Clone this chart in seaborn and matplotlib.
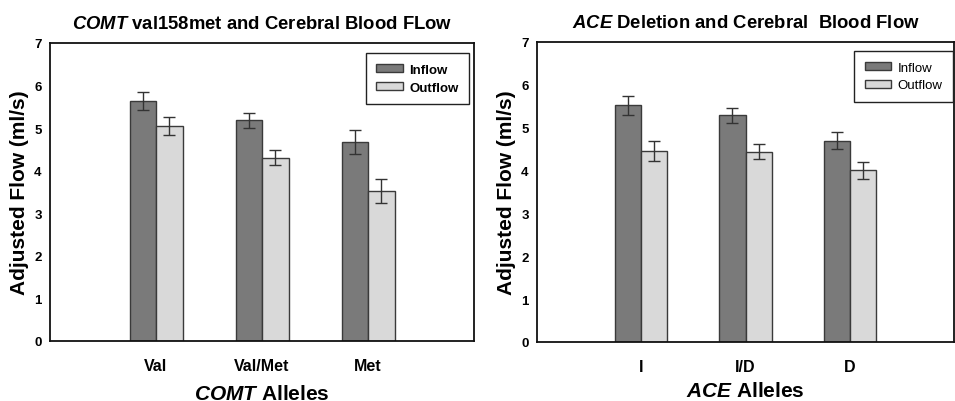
import matplotlib
matplotlib.use("Agg")
import matplotlib.pyplot as plt
import seaborn as sns
import pandas as pd

# ---- data ----
comt_alleles = ["Val", "Val/Met", "Met"]
comt_inflow = [5.63, 5.18, 4.67]
comt_inflow_err = [0.21, 0.17, 0.28]
comt_outflow = [5.05, 4.31, 3.53]
comt_outflow_err = [0.22, 0.17, 0.28]

ace_alleles = ["I", "I/D", "D"]
ace_inflow = [5.52, 5.29, 4.70]
ace_inflow_err = [0.23, 0.17, 0.20]
ace_outflow = [4.46, 4.44, 4.01]
ace_outflow_err = [0.24, 0.18, 0.20]

series = ["Inflow", "Outflow"]
yticks = [0, 1, 2, 3, 4, 5, 6, 7]

sns.set_theme(style="white")
plt.rcParams["font.family"] = ["Liberation Sans", "DejaVu Sans"]
plt.rcParams["mathtext.fontset"] = "custom"
plt.rcParams["mathtext.bfit"] = "Liberation Sans:bold:italic"
plt.rcParams["mathtext.it"] = "Liberation Sans:italic"
plt.rcParams["mathtext.rm"] = "Liberation Sans"
plt.rcParams["mathtext.bf"] = "Liberation Sans:bold"
for k in ["text.color", "axes.labelcolor", "xtick.color", "ytick.color"]:
    plt.rcParams[k] = "black"

palette = {"Inflow": "#7a7a7a", "Outflow": "#d9d9d9"}

fig = plt.figure(figsize=(9.55, 4.02), dpi=100)
ax1 = fig.add_axes([50 / 955, 60 / 402, 424 / 955, 298 / 402])
ax2 = fig.add_axes([537 / 955, 59 / 402, 417 / 955, 300 / 402])


def draw(ax, alleles, inflow, inflow_err, outflow, outflow_err, title, xlab,
         legend_bold, anchor, xlabelpad):
    df = pd.DataFrame({
        "allele": alleles * 2,
        "flow": ["Inflow"] * len(alleles) + ["Outflow"] * len(alleles),
        "value": list(inflow) + list(outflow),
        "err": list(inflow_err) + list(outflow_err),
    })
    sns.barplot(data=df, x="allele", y="value", hue="flow", hue_order=series,
                palette=palette, width=0.5, edgecolor="#3a3a3a", linewidth=1.0,
                errorbar=None, ax=ax, saturation=1)
    # error bars on bar centers
    for cont, s in zip(ax.containers, series):
        sub = df[df["flow"] == s]
        xs = [p.get_x() + p.get_width() / 2 for p in cont.patches]
        ax.errorbar(xs, sub["value"].values, yerr=sub["err"].values, fmt="none",
                    ecolor="#333333", elinewidth=1.0, capsize=4, capthick=1.0, zorder=5)
    ax.set_xlim(-1, 3)
    ax.set_ylim(0, 7)
    ax.set_yticks(yticks)
    ax.set_yticklabels([str(t) for t in yticks], fontsize=9.5, fontweight="bold")
    ax.tick_params(axis="y", direction="out", length=3, width=1, color="#222222", pad=3)
    ax.tick_params(axis="x", direction="out", length=6, width=1, color="#222222", pad=6)
    for lab in ax.get_xticklabels():
        lab.set_fontsize(11.5)
        lab.set_fontweight("bold")
    for sp in ax.spines.values():
        sp.set_visible(True)
        sp.set_color("#111111")
        sp.set_linewidth(1.3)
    ax.set_ylabel("Adjusted Flow (ml/s)", fontsize=15, fontweight="bold", labelpad=4)
    ax.set_xlabel(xlab, fontsize=15, fontweight="bold", labelpad=xlabelpad)
    ax.set_title(title, fontsize=13.3, fontweight="bold", pad=11)
    handles, labels = ax.get_legend_handles_labels()
    leg = ax.legend(handles, labels, loc="upper right", bbox_to_anchor=anchor,
                    borderaxespad=0, frameon=True, fancybox=False, edgecolor="#222222",
                    framealpha=1, prop={"family": "Liberation Sans", "size": 9.5,
                                        "weight": "bold" if legend_bold else "normal"},
                    handlelength=2.0, handleheight=0.6, labelspacing=0.45,
                    borderpad=0.8, handletextpad=0.5)
    leg.get_frame().set_linewidth(1.0)


draw(ax1, comt_alleles, comt_inflow, comt_inflow_err, comt_outflow, comt_outflow_err,
     r"$\mathbfit{COMT}$ val158met and Cerebral Blood FLow",
     r"$\mathbfit{COMT}$ Alleles", True, (0.988, 0.966), 8)
draw(ax2, ace_alleles, ace_inflow, ace_inflow_err, ace_outflow, ace_outflow_err,
     r"$\mathbfit{ACE}$ Deletion and Cerebral  Blood Flow",
     r"$\mathbfit{ACE}$ Alleles", False, (0.998, 0.97), 5)

fig.savefig("out.png", dpi=100)
